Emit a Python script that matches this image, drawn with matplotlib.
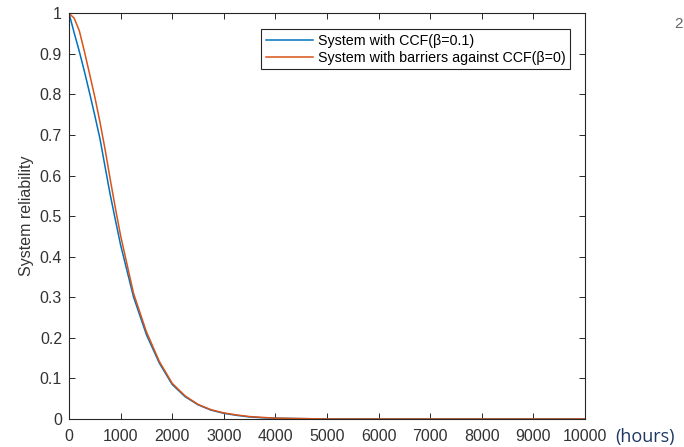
import matplotlib
matplotlib.use("Agg")
import matplotlib.pyplot as plt

# Data
hours = [0, 100, 200, 300, 400, 500, 600, 700, 800, 900, 1000,
         1250, 1500, 1750, 2000, 2250, 2500, 2750, 3000, 3250, 3500,
         3750, 4000, 5000, 6000, 7000, 8000, 9000, 10000]
rel_ccf = [1.000, 0.952, 0.906, 0.856, 0.803, 0.748, 0.691, 0.621, 0.552, 0.490, 0.429,
           0.301, 0.208, 0.138, 0.085, 0.055, 0.035, 0.022, 0.014, 0.009, 0.005,
           0.003, 0.002, 0.0, 0.0, 0.0, 0.0, 0.0, 0.0]
rel_barrier = [1.000, 0.988, 0.957, 0.905, 0.850, 0.794, 0.732, 0.664, 0.590, 0.519, 0.452,
               0.310, 0.215, 0.142, 0.088, 0.057, 0.036, 0.023, 0.015, 0.010, 0.006,
               0.004, 0.002, 0.0, 0.0, 0.0, 0.0, 0.0, 0.0]
series_labels = ["System with CCF(β=0.1)", "System with barriers against CCF(β=0)"]
x_ticks = list(range(0, 10001, 1000))
y_ticks = [round(0.1 * i, 1) for i in range(11)]
y_tick_labels = ["0", "0.1", "0.2", "0.3", "0.4", "0.5", "0.6", "0.7", "0.8", "0.9", "1"]

plt.rcParams['font.family'] = ['Liberation Sans', 'DejaVu Sans']

W, H = 684, 447
fig = plt.figure(figsize=(W / 100, H / 100), dpi=100)
ax = fig.add_axes([69 / W, 1 - 419 / H, (585 - 69) / W, (419 - 13.3) / H])

ax.plot(hours, rel_ccf, color='#0072BD', lw=1.1, label=series_labels[0])
ax.plot(hours, rel_barrier, color='#D95319', lw=1.1, label=series_labels[1])

ax.set_xlim(0, 10000)
ax.set_ylim(0, 1)
ax.set_xticks(x_ticks)
ax.set_xticklabels([str(v) for v in x_ticks])
ax.set_yticks(y_ticks)
ax.set_yticklabels(y_tick_labels)

axis_col = '#262626'
label_col = '#333333'
for sp in ax.spines.values():
    sp.set_color(axis_col)
    sp.set_linewidth(0.8)
ax.tick_params(direction='in', length=4, width=0.7, colors=axis_col,
               labelcolor=label_col, top=True, right=True, labelsize=11.5)
ax.tick_params(axis='x', pad=7.5)
ax.tick_params(axis='y', pad=5)

ax.set_ylabel("System reliability", fontsize=11.5, color=label_col, labelpad=4)

leg = ax.legend(loc='upper right', bbox_to_anchor=(570 / W, 1 - 29.3 / H),
                bbox_transform=fig.transFigure, borderaxespad=0,
                fontsize=10.3, frameon=True, fancybox=False, framealpha=1,
                handlelength=3.3, handletextpad=0.35, borderpad=0.3,
                labelspacing=0.25, borderaxespad_=None) if False else ax.legend(
                loc='upper right', bbox_to_anchor=(570 / W, 1 - 29.3 / H),
                bbox_transform=fig.transFigure, borderaxespad=0,
                fontsize=10.3, frameon=True, fancybox=False, framealpha=1,
                handlelength=3.3, handletextpad=0.35, borderpad=0.3,
                labelspacing=0.25)
leg.get_frame().set_edgecolor(axis_col)
leg.get_frame().set_linewidth(0.8)

fig.text(615 / W, 1 - 437 / H, "(hours)", color='#1F3864', fontsize=13,
         family=['Open Sans', 'DejaVu Sans'], ha='left', va='center')
fig.text(674 / W, 1 - 24 / H, "2", color='#666666', fontsize=11, ha='left', va='center')

fig.savefig("out.png", dpi=100)
